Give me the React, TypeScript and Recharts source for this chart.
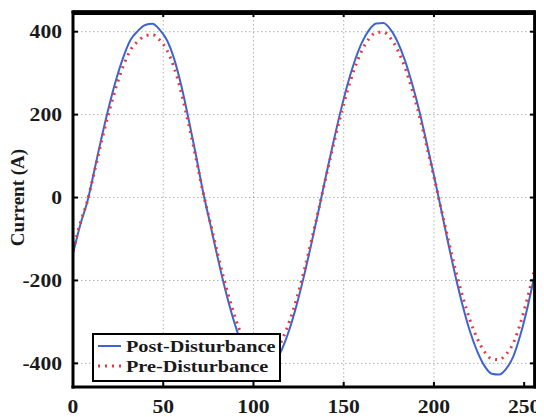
import React from 'react';
import { LineChart, Line, XAxis, YAxis, CartesianGrid, Legend, Label, ReferenceLine, ReferenceArea } from 'recharts';

// sample index (x axis)
const sampleIndex = [
  0, 4, 8, 12, 16, 20, 24, 28, 32, 36, 40, 44, 48, 52, 56, 60, 64, 68, 72,
  76, 80, 84, 88, 92, 96, 100, 104, 108, 112, 116, 120, 124, 128, 132, 136,
  140, 144, 148, 152, 156, 160, 164, 168, 172, 176, 180, 184, 188, 192, 196, 200,
  204, 208, 212, 216, 220, 224, 228, 232, 236, 240, 244, 248, 252, 256,
];

// Post-Disturbance current (A)
const postDisturbance = [
  -135, -66, -9, 69, 148, 221, 286, 340, 381, 402, 416, 419, 405, 380, 335, 270, 190, 105, 15,
  -63, -142, -216, -281, -336, -378, -407, -419, -416, -398, -364, -317, -258, -189, -113, -33,
  49, 128, 203, 271, 328, 373, 404, 420, 421, 405, 374, 330, 273, 207, 131, 53,
  -29, -112, -191, -262, -323, -371, -406, -425, -427, -413, -383, -330, -262, -182,
];

// Pre-Disturbance current (A)
const preDisturbance = [
  -128, -62, -8, 65, 139, 207, 268, 319, 357, 377, 390, 393, 380, 356, 314, 253, 178, 98, 14,
  -59, -133, -203, -264, -316, -355, -383, -394, -391, -374, -342, -298, -243, -178, -106, -31,
  46, 121, 192, 257, 311, 354, 383, 398, 399, 384, 355, 313, 259, 196, 124, 50,
  -27, -103, -175, -240, -296, -340, -372, -389, -391, -378, -351, -302, -240, -168,
];

const xTicks = [0, 50, 100, 150, 200, 250];
const xGridTicks = [50, 100, 150, 200];
const yTicks = [-400, -200, 0, 200, 400];
const xDomain = [0, 256];
const yDomain = [-457, 447.5];
const topBandBottom = 440; // lower edge of the top frame band, in data units

const data = sampleIndex.map((x, i) => ({ x, post: postDisturbance[i], pre: preDisturbance[i] }));

const FONT = '"Liberation Serif", "Times New Roman", serif';

const YTick = (props: any) => {
  const { x, y, payload } = props;
  return (
    <g transform={`translate(${x},${y})`}>
      <text x={0} y={0} dy="0.35em" textAnchor="end" transform="scale(1.2,1)"
        fontFamily={FONT} fontWeight="bold" fontSize={18} fill="#1a1a1a">
        {payload.value}
      </text>
    </g>
  );
};

const XTick = (props: any) => {
  const { x, y, payload } = props;
  return (
    <g transform={`translate(${x},${y})`}>
      <text x={0} y={0} dy="0.71em" textAnchor="middle" transform="scale(1.2,1)"
        fontFamily={FONT} fontWeight="bold" fontSize={18} fill="#1a1a1a">
        {payload.value}
      </text>
    </g>
  );
};

const EmptyTick = () => <g />;

const YLabel = (props: any) => {
  const { viewBox } = props;
  const cx = viewBox.x + 9;
  const cy = viewBox.y + viewBox.height / 2 - 2;
  return (
    <text x={cx} y={cy} transform={`rotate(-90, ${cx}, ${cy})`} textAnchor="middle"
      dominantBaseline="central" fontFamily={FONT} fontWeight="bold" fontSize={19} fill="#1a1a1a">
      Current (A)
    </text>
  );
};

const renderLegend = (props: any) => {
  const { payload = [] } = props;
  return (
    <svg width={189} height={49} style={{ display: 'block' }}>
      <rect x={1} y={1} width={187} height={47} fill="#fff" stroke="#000" strokeWidth={2} />
      {payload.map((entry: any, i: number) => {
        const cy = 13 + i * 20;
        const p = entry.payload || {};
        return (
          <g key={i}>
            <line x1={6} x2={29} y1={cy} y2={cy} stroke={entry.color}
              strokeWidth={p.strokeWidth || 2} strokeDasharray={p.strokeDasharray} />
            <text x={0} y={0} transform={`translate(34, ${cy + 6}) scale(1.19,1)`}
              fontFamily={FONT} fontWeight="bold" fontSize={17} fill="#1a1a1a">
              {entry.value}
            </text>
          </g>
        );
      })}
    </svg>
  );
};

const frame = { stroke: '#000', strokeWidth: 3, strokeLinecap: 'square' as const };
const tickMark = { stroke: '#000', strokeWidth: 2 };

export default function App() {
  return (
    <LineChart width={536} height={409} data={data} margin={{ top: 3, right: 8, bottom: 0, left: 0 }}>
      <CartesianGrid xAxisId="bottom" yAxisId="left" verticalValues={xGridTicks} horizontalValues={yTicks}
        stroke="#b0b0b0" strokeDasharray="1.5 2.5" strokeWidth={1} />
      <Line xAxisId="bottom" yAxisId="left" dataKey="post" name="Post-Disturbance" type="monotone"
        stroke="#3e64d4" strokeWidth={2} dot={false} isAnimationActive={false} />
      <Line xAxisId="bottom" yAxisId="left" dataKey="pre" name="Pre-Disturbance" type="monotone"
        stroke="#e23b3b" strokeWidth={3} strokeDasharray="2 5" dot={false} isAnimationActive={false} />
      <ReferenceArea xAxisId="bottom" yAxisId="left" x1={xDomain[0]} x2={xDomain[1]} y1={topBandBottom} y2={yDomain[1]}
        fill="#000" fillOpacity={1} stroke="none" ifOverflow="visible" />
      <CartesianGrid xAxisId="bottom" yAxisId="left" verticalValues={[xDomain[1]]} horizontalValues={[yDomain[1]]}
        stroke="#000" strokeWidth={3} />
      <ReferenceLine xAxisId="bottom" yAxisId="left" y={yDomain[1]} stroke="#000" strokeWidth={3} ifOverflow="visible" />
      <ReferenceLine xAxisId="bottom" yAxisId="left" x={xDomain[1]} stroke="#000" strokeWidth={3} ifOverflow="visible" />
      <XAxis xAxisId="bottom" dataKey="x" type="number" domain={xDomain} ticks={xTicks} interval={0}
        height={30} tickSize={-5} tickMargin={18} tick={<XTick />} axisLine={frame} tickLine={tickMark}
        allowDataOverflow />
      <XAxis xAxisId="top" orientation="top" dataKey="x" type="number" domain={xDomain} ticks={xGridTicks}
        interval={0} height={1} tickSize={-5} tick={<EmptyTick />} axisLine={frame} tickLine={tickMark} allowDataOverflow />
      <YAxis yAxisId="left" type="number" domain={yDomain} ticks={yTicks} interval={0} width={65}
        tickSize={-5} tickMargin={16} tick={<YTick />} axisLine={frame} tickLine={tickMark} allowDataOverflow>
        <Label content={<YLabel />} />
      </YAxis>
      <YAxis yAxisId="right" orientation="right" type="number" domain={yDomain} ticks={yTicks} interval={0}
        width={1} tickSize={-5} tick={<EmptyTick />} axisLine={frame} tickLine={tickMark} allowDataOverflow />
      <Legend layout="horizontal" verticalAlign="middle" align="center" content={renderLegend}
        wrapperStyle={{ position: 'absolute', left: 84, top: 325, width: 189, height: 49, margin: 0, padding: 0, lineHeight: 0 }} />
    </LineChart>
  );
}
